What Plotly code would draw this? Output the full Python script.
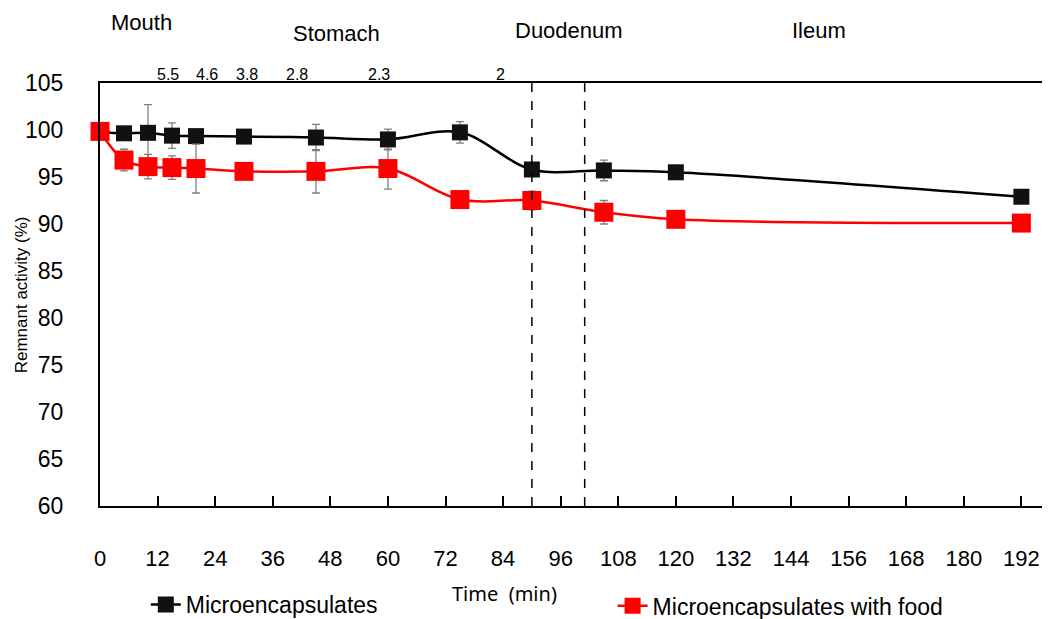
import plotly.graph_objects as go

# ---- data ----
time_min = [0, 5, 10, 15, 20, 30, 45, 60, 75, 90, 105, 120, 192]
micro = [99.8, 99.65, 99.7, 99.4, 99.35, 99.3, 99.2, 99.0, 99.75, 95.8, 95.7, 95.5, 92.9]
micro_err = [0, 0, 3.0, 1.35, 0, 0, 1.4, 1.1, 1.15, 0, 1.1, 0, 0]
food = [99.85, 96.8, 96.1, 96.0, 95.9, 95.6, 95.6, 95.9, 92.6, 92.5, 91.25, 90.5, 90.1]
food_err = [0, 1.15, 1.3, 1.25, 2.6, 0, 2.3, 2.2, 0, 1.0, 1.25, 0, 0]

series_names = ["Microencapsulates", "Microencapsulates with food"]

x_ticks = list(range(0, 193, 12))
y_ticks = list(range(60, 106, 5))

ph_labels = ["5.5", "4.6", "3.8", "2.8", "2.3", "2"]
ph_times = [14.1, 22.2, 30.7, 41.0, 58.2, 83.5]

sections = ["Mouth", "Stomach", "Duodenum", "Ileum"]
section_times = [8.75, 49.2, 97.7, 149.8]
section_y = [1.144, 1.118, 1.125, 1.125]

phase_boundaries = [90, 101]

FONT = "Liberation Sans, Arial, sans-serif"

fig = go.Figure()

fig.add_trace(go.Scatter(
    x=time_min, y=micro, name=series_names[0], mode="lines+markers", legend="legend",
    line=dict(color="#000000", width=2.5, shape="spline", smoothing=1),
    marker=dict(symbol="square", size=16, color="#111111", line=dict(color="#000000", width=0)),
    error_y=dict(type="data", array=micro_err, visible=True, color="#7f7f7f", thickness=1.3, width=4),
    cliponaxis=False,
))
fig.add_trace(go.Scatter(
    x=time_min, y=food, name=series_names[1], mode="lines+markers", legend="legend2",
    line=dict(color="#ff0000", width=2.5, shape="spline", smoothing=1),
    marker=dict(symbol="square", size=19, color="#ff0000", line=dict(color="#ff0000", width=0)),
    error_y=dict(type="data", array=food_err, visible=True, color="#7f7f7f", thickness=1.3, width=4),
    cliponaxis=False,
))

for xb in phase_boundaries:
    fig.add_shape(type="line", xref="x", yref="paper", x0=xb, x1=xb, y0=0, y1=1,
                  line=dict(color="#000000", width=1.5, dash="dash"))

annotations = []
for lab, t in zip(ph_labels, ph_times):
    annotations.append(dict(x=t, y=1.019, xref="x", yref="paper", text=lab, showarrow=False,
                            font=dict(family=FONT, size=16, color="#000000"),
                            xanchor="center", yanchor="middle"))
for lab, t, yy in zip(sections, section_times, section_y):
    annotations.append(dict(x=t, y=yy, xref="x", yref="paper", text=lab, showarrow=False,
                            font=dict(family=FONT, size=22, color="#000000"),
                            xanchor="center", yanchor="middle"))
annotations.append(dict(x=-0.083, y=0.5, xref="paper", yref="paper", text="Remnant activity (%)",
                        showarrow=False, textangle=-90,
                        font=dict(family=FONT, size=17, color="#000000"),
                        xanchor="center", yanchor="middle"))
annotations.append(dict(x=0.4295, y=-0.206, xref="paper", yref="paper", text="Time\u00a0 (min)",
                        showarrow=False, font=dict(family="Noto Sans, Open Sans, sans-serif", size=20, color="#000000"),
                        xanchor="center", yanchor="middle"))

legend_common = dict(orientation="h", xanchor="left", yanchor="middle",
                     xref="container", yref="container",
                     font=dict(family=FONT, size=23, color="#000000"),
                     bgcolor="rgba(0,0,0,0)")

fig.update_layout(
    width=1049, height=619,
    margin=dict(l=100, r=7, t=83, b=113),
    paper_bgcolor="white", plot_bgcolor="white",
    font=dict(family=FONT, color="#000000"),
    showlegend=True,
    legend=dict(x=0.139, y=0.0235, **legend_common),
    legend2=dict(x=0.584, y=0.0215, **legend_common),
    annotations=annotations,
    xaxis=dict(range=[0, 196.3], tickmode="array", tickvals=x_ticks,
               ticks="inside", ticklen=10, tickwidth=1.5, tickcolor="#000000",
               showline=True, linecolor="#000000", linewidth=2, mirror=True,
               showgrid=False, zeroline=False, ticklabelstandoff=32,
               tickfont=dict(family=FONT, size=22, color="#000000")),
    yaxis=dict(range=[60, 105], tickmode="array", tickvals=y_ticks,
               ticks="", showline=True, linecolor="#000000", linewidth=2,
               showgrid=False, zeroline=False, ticklabelstandoff=30,
               tickfont=dict(family=FONT, size=23, color="#000000")),
)

fig.write_html("out.html")
